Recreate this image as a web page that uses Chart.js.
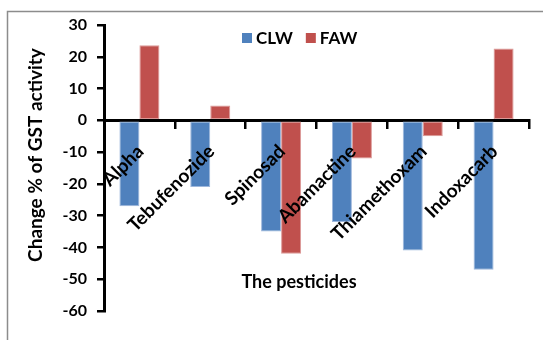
<!DOCTYPE html>
<html>
<head>
<meta charset="utf-8">
<script src="https://cdn.jsdelivr.net/npm/chart.js@4/dist/chart.umd.min.js"></script>
<style>
  html, body { margin: 0; padding: 0; background: #ffffff; }
  #wrap { width: 543px; height: 340px; }
</style>
</head>
<body>
<div id="wrap"><canvas id="gst" width="543" height="340"></canvas></div>
<script>
// GST activity change (%) for two pests after pesticide exposure
const pesticides = ['Alpha', 'Tebufenozide', 'Spinosad', 'Abamactine', 'Thiamethoxam', 'Indoxacarb'];
const clwChange = [-27, -21, -35, -32, -41, -47];
const fawChange = [23.6, 4.7, -42, -12, -5, 22.6];
const seriesNames = ['CLW', 'FAW'];
const seriesColors = ['#4F81BD', '#C0504D'];
const yTickValues = [30, 20, 10, 0, -10, -20, -30, -40, -50, -60];
const xTitle = 'The pesticides';
const yTitle = 'Change % of GST activity';

const FONT = 'Lato, "Open Sans", sans-serif';

// Outer frame, category labels over the bars, axis titles and the in-plot legend
const decorations = {
  id: 'decorations',
  beforeDraw(chart) {
    const ctx = chart.ctx;
    ctx.save();
    ctx.strokeStyle = '#8c8c8c';
    ctx.lineWidth = 1.5;
    ctx.beginPath();
    ctx.moveTo(7.5, 345);
    ctx.lineTo(7.5, 11.5);
    ctx.lineTo(550, 11.5);
    ctx.stroke();
    ctx.restore();
  },
  afterDatasetsDraw(chart) {
    // category names sit just under the zero line, slanted at 45 degrees
    const ctx = chart.ctx;
    const xs = chart.scales.x, ys = chart.scales.y;
    const zeroY = ys.getPixelForValue(0);
    ctx.save();
    ctx.fillStyle = '#000';
    ctx.font = 'bold 19px ' + FONT;
    ctx.textAlign = 'right';
    ctx.textBaseline = 'middle';
    pesticides.forEach((name, i) => {
      ctx.save();
      ctx.translate(xs.getPixelForValue(i) + 1, zeroY + 28);
      ctx.rotate(-Math.PI / 4);
      ctx.fillText(name, 0, 0);
      ctx.restore();
    });
    ctx.restore();
  },
  afterDraw(chart) {
    const ctx = chart.ctx;
    ctx.save();
    ctx.fillStyle = '#000';
    ctx.font = 'bold 19px ' + FONT;
    ctx.textAlign = 'center';
    ctx.textBaseline = 'middle';
    ctx.translate(36, 155);
    ctx.rotate(-Math.PI / 2);
    ctx.fillText(yTitle, 0, 0);
    ctx.restore();

    ctx.save();
    ctx.fillStyle = '#000';
    ctx.font = 'bold 18px ' + FONT;
    ctx.textAlign = 'center';
    ctx.textBaseline = 'middle';
    ctx.fillText(xTitle, 299, 282);

    ctx.font = 'bold 17px ' + FONT;
    ctx.textAlign = 'left';
    let x = 242;
    seriesNames.forEach((name, i) => {
      ctx.fillStyle = seriesColors[i];
      ctx.fillRect(x, 33, 10, 10);
      ctx.fillStyle = '#000';
      ctx.fillText(name, x + 14, 39);
      x += 14 + ctx.measureText(name).width + 13;
    });
    ctx.restore();
  }
};

new Chart(document.getElementById('gst'), {
  type: 'bar',
  data: {
    labels: pesticides,
    datasets: [
      { label: seriesNames[0], data: clwChange, backgroundColor: seriesColors[0],
        borderColor: '#9db7dc', borderWidth: 1, borderSkipped: false },
      { label: seriesNames[1], data: fawChange, backgroundColor: seriesColors[1],
        borderColor: '#dc9a98', borderWidth: 1, borderSkipped: false }
    ]
  },
  options: {
    responsive: false,
    devicePixelRatio: 1,
    animation: false,
    layout: { padding: { top: 25, right: 14, bottom: 29, left: 0 } },
    datasets: { bar: { barPercentage: 1, categoryPercentage: 0.565 } },
    plugins: { legend: { display: false }, tooltip: { enabled: false } },
    scales: {
      x: {
        position: { y: 0 },
        afterFit(s) { s.height = 0; },
        border: { color: '#000', width: 3 },
        grid: { drawOnChartArea: false, offset: true, color: '#000', lineWidth: 2.5, tickLength: 7 },
        ticks: { display: false }
      },
      y: {
        min: -60, max: 30,
        afterFit(s) { s.width = 104; },
        afterBuildTicks(s) { s.ticks = yTickValues.map(v => ({ value: v })); },
        border: { color: '#000', width: 3 },
        grid: { drawOnChartArea: false, color: '#000', lineWidth: 2.5, tickLength: 7 },
        ticks: {
          padding: 10, color: '#000', font: { family: FONT, size: 16, weight: 'bold' }
        }
      }
    }
  },
  plugins: [decorations]
});
</script>
</body>
</html>
